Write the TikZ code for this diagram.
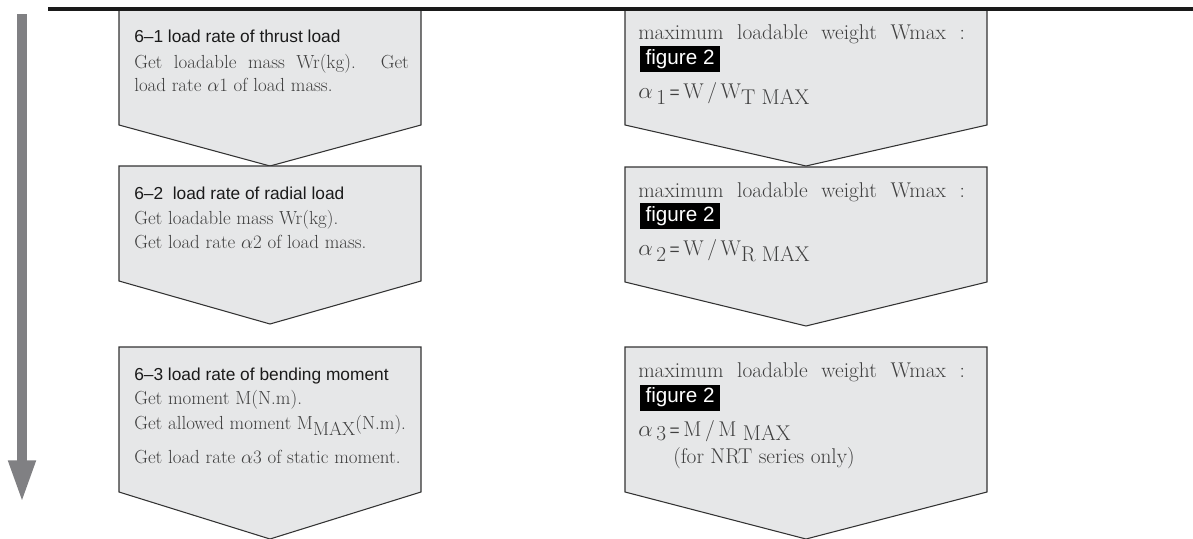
\documentclass[tikz,border=0pt]{standalone}
\usepackage{fontspec}
\usepackage{tikz}
\usetikzlibrary{arrows.meta}
\newfontfamily\headfont{Liberation Sans}
\newfontfamily\bodyfont{Latin Modern Roman}
\definecolor{boxfill}{HTML}{E6E7E8}
\definecolor{boxline}{HTML}{333333}
\definecolor{bodygray}{HTML}{3F3F3F}
\definecolor{headblack}{HTML}{1A1A1A}
\definecolor{flowgray}{HTML}{808083}

\begin{document}
\begin{tikzpicture}[x=0.75pt,y=0.75pt,yscale=-1,xscale=1,
  chevron/.style={fill=boxfill,draw=boxline,line width=0.8pt},
  head/.style={anchor=base west,inner sep=0pt,font=\headfont\fontsize{13}{15}\selectfont,text=headblack},
  body/.style={anchor=base west,inner sep=0pt,font=\bodyfont\fontsize{14.2}{16}\selectfont,text=bodygray},
  rbody/.style={anchor=base west,inner sep=0pt,font=\bodyfont\fontsize{16}{18}\selectfont,text=bodygray},
  figtag/.style={anchor=west,fill=black,text=white,inner xsep=4pt,inner ysep=0pt,minimum height=19.5pt,font=\headfont\fontsize{15.5}{15}\selectfont}]
\useasboundingbox (0,0) rectangle (1193,539);
%Shape: left chevrons
\draw[chevron] (119,10) -- (421,10) -- (421,125) -- (270,166) -- (119,125) -- cycle ;
\draw[chevron] (119,166) -- (421,166) -- (421,281) -- (270,324) -- (119,281) -- cycle ;
\draw[chevron] (119,347) -- (421,347) -- (421,492) -- (270,539) -- (119,492) -- cycle ;
%Shape: right chevrons
\draw[chevron] (625,10) -- (987,10) -- (987,125) -- (806,166) -- (625,125) -- cycle ;
\draw[chevron] (625,167) -- (987,167) -- (987,282) -- (806,326) -- (625,282) -- cycle ;
\draw[chevron] (625,347) -- (987,347) -- (987,492) -- (806,539) -- (625,492) -- cycle ;
%Shape: top rule
\draw[line width=2.6pt,headblack] (48,9) -- (1193,9) ;
%Shape: flow arrow
\coordinate (flowtop) at (22,14);
\coordinate (flowend) at (22,503);
\draw[line width=7.5pt,flowgray,-{Triangle[length=32pt,width=18.75pt]}] (flowtop) -- (flowend) ;

% Text Node: step 6-1
\node[head] (thrusthead) at (134,42) {6–1 load rate of thrust load};
\node[body] (thrustA) at (134,68) {\makebox[206pt][s]{Get loadable mass Wr(kg). Get}};
\node[body] (thrustB) at (134,91) {load rate $\alpha$1 of load mass.};
% Text Node: step 6-2
\node[head] (radialhead) at (134,199) {6–2\ \ load rate of radial load};
\node[body] (radialA) at (134,224) {Get loadable mass Wr(kg).};
\node[body] (radialB) at (134,248) {Get load rate $\alpha$2 of load mass.};
% Text Node: step 6-3
\node[head] (bendhead) at (134,380) {6–3 load rate of bending moment};
\node[body] (bendA) at (134,404) {Get moment M(N.m).};
\node[body] (bendB) at (134,429) {Get allowed moment M\raisebox{-5pt}{MAX}(N.m).};
\node[body] (bendC) at (134,463) {Get load rate $\alpha$3 of static moment.};

% Text Node: thrust limit
\node[rbody] (thrustmax) at (638,40) {\makebox[245pt][s]{maximum loadable weight Wmax :}};
\node[figtag] (thrustfig) at (640,59) {figure 2};
\node[rbody] (thrustrate) at (638,98) {$\alpha$\,\raisebox{-5pt}{1}\,{\headfont\fontsize{13}{13}\selectfont =}\,W\,/\,W\raisebox{-5pt}{T MAX}};
% Text Node: radial limit
\node[rbody] (radialmax) at (638,197) {\makebox[245pt][s]{maximum loadable weight Wmax :}};
\node[figtag] (radialfig) at (640,216) {figure 2};
\node[rbody] (radialrate) at (638,255) {$\alpha$\,\raisebox{-5pt}{2}\,{\headfont\fontsize{13}{13}\selectfont =}\,W\,/\,W\raisebox{-5pt}{R MAX}};
% Text Node: moment limit
\node[rbody] (bendmax) at (638,377) {\makebox[245pt][s]{maximum loadable weight Wmax :}};
\node[figtag] (bendfig) at (640,397.5) {figure 2};
\node[rbody] (bendrate) at (638,436) {$\alpha$\,\raisebox{-3pt}{3}\,{\headfont\fontsize{13}{13}\selectfont =}\,M\,/\,M \raisebox{-3pt}{MAX}};
\node[rbody] (bendnote) at (673,463) {(for NRT series only)};
\end{tikzpicture}
\end{document}
